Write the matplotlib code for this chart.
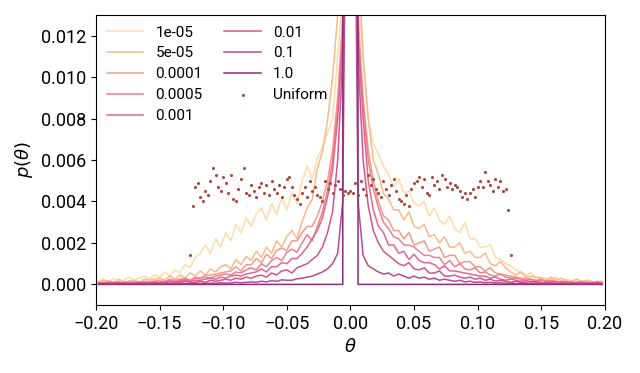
import numpy as np
import matplotlib
matplotlib.use("Agg")
import matplotlib.pyplot as plt
from matplotlib.ticker import FuncFormatter

plt.rcParams['font.family'] = ['Roboto', 'DejaVu Sans']
plt.rcParams['font.size'] = 13

# ---- data (p in units of 1e-3), bin centres -0.198 .. 0.198 step 0.004 ----
theta = np.linspace(-0.198, 0.198, 100)

labels = ['1e-05', '5e-05', '0.0001', '0.0005', '0.001', '0.01', '0.1', '1.0']
colors = ['#fcdcaa', '#f8b98f', '#f29c8c', '#ec8090', '#e5668d', '#d3558a', '#b94a8c', '#8c2c7d']

p_1e5 = [0.15, 0.25, 0.1, 0.3, 0.15, 0.2, 0.35, 0.2, 0.3, 0.4,
         0.25, 0.45, 0.35, 0.6, 0.4, 0.7, 0.55, 0.95, 0.8, 1.3,
         1.5, 1.9, 1.5, 2.2, 1.8, 2.5, 2.1, 2.9, 2.5, 3.2,
         2.8, 3.4, 3.7, 3.1, 3.9, 3.4, 4.2, 3.6, 4.4, 3.9,
         5.0, 5.7, 5.1, 6.1, 6.6, 7.3, 8.0, 11.0, 14.0, 18.0,
         18.0, 14.0, 11.0, 8.0, 6.8, 6.3, 5.7, 5.3, 4.7, 5.1,
         4.4, 4.5, 3.9, 3.8, 4.0, 3.3, 3.7, 3.1, 2.9, 3.3,
         2.7, 2.5, 3.0, 2.2, 2.2, 1.8, 1.8, 1.9, 1.3, 1.2,
         1.0, 0.9, 0.7, 0.6, 0.45, 0.55, 0.3, 0.35, 0.3, 0.25,
         0.35, 0.15, 0.25, 0.15, 0.25, 0.15, 0.2, 0.15, 0.1, 0.2]

p_5e5 = [0.1, 0.2, 0.15, 0.1, 0.25, 0.1, 0.15, 0.2, 0.1, 0.25,
         0.2, 0.25, 0.3, 0.2, 0.4, 0.25, 0.45, 0.3, 0.55, 0.4,
         0.65, 0.45, 0.75, 0.6, 0.85, 0.95, 0.75, 1.2, 0.95, 1.35,
         1.15, 1.6, 1.3, 1.8, 1.5, 2.1, 1.8, 2.3, 2.6, 2.2,
         3.0, 3.7, 4.1, 5.6, 6.4, 7.9, 10.0, 13.0, 17.0, 22.0,
         22.0, 16.0, 11.0, 8.0, 6.0, 5.3, 4.4, 4.1, 3.6, 3.6,
         3.1, 3.5, 2.8, 2.7, 2.9, 2.3, 2.4, 2.0, 2.3, 1.8,
         1.8, 2.0, 1.5, 1.6, 1.3, 1.3, 1.5, 1.0, 0.9, 1.1,
         0.8, 0.6, 0.45, 0.6, 0.35, 0.4, 0.35, 0.3, 0.2, 0.35,
         0.2, 0.3, 0.15, 0.15, 0.25, 0.1, 0.2, 0.1, 0.15, 0.1]

p_1e4 = [0.1, 0.05, 0.15, 0.1, 0.1, 0.05, 0.15, 0.1, 0.1, 0.15,
         0.1, 0.15, 0.2, 0.1, 0.25, 0.2, 0.25, 0.3, 0.2, 0.35,
         0.3, 0.45, 0.45, 0.5, 0.55, 0.6, 0.65, 0.85, 0.65, 0.95,
         0.95, 1.25, 1.05, 1.45, 1.25, 1.65, 1.75, 1.65, 2.1, 2.1,
         2.5, 2.8, 2.8, 3.3, 4.0, 5.0, 6.5, 9.0, 13.0, 20.0,
         20.0, 13.0, 9.0, 6.5, 5.0, 4.0, 3.3, 3.1, 2.6, 2.6,
         2.2, 2.5, 1.9, 2.0, 2.1, 1.6, 1.7, 1.8, 1.3, 1.4,
         1.4, 1.0, 1.1, 1.1, 0.85, 0.85, 0.65, 0.8, 0.55, 0.5,
         0.45, 0.4, 0.35, 0.3, 0.3, 0.25, 0.2, 0.25, 0.15, 0.2,
         0.15, 0.1, 0.15, 0.1, 0.1, 0.15, 0.1, 0.05, 0.1, 0.1]

p_5e4 = [0.05, 0.1, 0.05, 0.1, 0.05, 0.1, 0.05, 0.1, 0.1, 0.05,
         0.1, 0.15, 0.1, 0.15, 0.2, 0.15, 0.2, 0.25, 0.2, 0.3,
         0.3, 0.35, 0.3, 0.4, 0.45, 0.5, 0.45, 0.6, 0.55, 0.7,
         0.8, 0.7, 1.0, 0.85, 1.15, 1.3, 1.15, 1.55, 1.7, 1.55,
         2.0, 2.4, 2.1, 2.8, 3.5, 4.5, 6.0, 8.5, 12.0, 19.0,
         19.0, 12.0, 8.5, 6.0, 4.6, 3.7, 3.0, 2.7, 2.3, 2.2,
         1.9, 1.9, 1.8, 1.6, 1.4, 1.4, 1.3, 1.3, 0.95, 1.15,
         0.85, 1.0, 0.75, 0.7, 0.8, 0.55, 0.6, 0.45, 0.4, 0.5,
         0.35, 0.3, 0.3, 0.25, 0.2, 0.25, 0.15, 0.2, 0.15, 0.1,
         0.1, 0.15, 0.1, 0.1, 0.05, 0.1, 0.1, 0.05, 0.1, 0.05]

p_1e3 = [0.05, 0.05, 0.1, 0.05, 0.05, 0.1, 0.05, 0.05, 0.1, 0.05,
         0.1, 0.05, 0.1, 0.1, 0.15, 0.1, 0.15, 0.2, 0.15, 0.2,
         0.2, 0.25, 0.3, 0.25, 0.35, 0.3, 0.4, 0.45, 0.4, 0.5,
         0.55, 0.6, 0.75, 0.6, 0.85, 0.85, 1.05, 1.0, 1.25, 1.25,
         1.5, 1.8, 2.2, 2.6, 3.2, 4.2, 5.5, 8.0, 12.0, 19.0,
         19.0, 12.0, 8.0, 5.0, 3.6, 2.8, 2.5, 1.9, 1.9, 1.5,
         1.6, 1.2, 1.45, 1.15, 1.05, 1.05, 0.95, 0.75, 0.9, 0.65,
         0.65, 0.6, 0.55, 0.5, 0.45, 0.4, 0.4, 0.3, 0.35, 0.25,
         0.2, 0.25, 0.2, 0.15, 0.2, 0.1, 0.15, 0.1, 0.1, 0.15,
         0.1, 0.05, 0.1, 0.1, 0.05, 0.1, 0.05, 0.1, 0.05, 0.05]

p_1e2 = [0.05, 0.05, 0.05, 0.05, 0.1, 0.05, 0.05, 0.05, 0.05, 0.1,
         0.05, 0.1, 0.05, 0.1, 0.05, 0.1, 0.1, 0.15, 0.1, 0.1,
         0.15, 0.1, 0.2, 0.15, 0.2, 0.25, 0.2, 0.3, 0.25, 0.35,
         0.3, 0.4, 0.45, 0.35, 0.55, 0.45, 0.65, 0.7, 0.55, 0.8,
         0.9, 1.0, 1.2, 1.4, 1.8, 2.5, 3.5, 6.0, 11.0, 22.0,
         22.0, 11.0, 6.0, 3.8, 2.6, 2.0, 1.6, 1.4, 1.2, 1.0,
         0.9, 1.05, 0.75, 0.7, 0.8, 0.55, 0.55, 0.65, 0.4, 0.4,
         0.45, 0.35, 0.3, 0.35, 0.25, 0.3, 0.2, 0.25, 0.15, 0.2,
         0.15, 0.1, 0.15, 0.1, 0.1, 0.15, 0.1, 0.05, 0.1, 0.05,
         0.05, 0.1, 0.05, 0.05, 0.1, 0.05, 0.05, 0.05, 0.1, 0.05]

p_1e1 = [0.0, 0.02, 0.0, 0.02, 0.0, 0.03, 0.0, 0.02, 0.01, 0.0,
         0.02, 0.03, 0.01, 0.02, 0.04, 0.02, 0.03, 0.05, 0.03, 0.04,
         0.05, 0.04, 0.06, 0.05, 0.08, 0.06, 0.07, 0.1, 0.08, 0.1,
         0.12, 0.1, 0.15, 0.12, 0.18, 0.15, 0.22, 0.2, 0.2, 0.27,
         0.3, 0.35, 0.4, 0.5, 0.6, 0.75, 1.0, 1.5, 4.0, 30.0,
         30.0, 4.0, 1.4, 0.9, 0.75, 0.6, 0.5, 0.55, 0.4, 0.5,
         0.4, 0.3, 0.4, 0.3, 0.35, 0.25, 0.3, 0.2, 0.25, 0.2,
         0.15, 0.2, 0.12, 0.15, 0.1, 0.12, 0.08, 0.1, 0.06, 0.08,
         0.05, 0.06, 0.04, 0.05, 0.03, 0.04, 0.02, 0.03, 0.02, 0.02,
         0.01, 0.02, 0.01, 0.02, 0.0, 0.01, 0.02, 0.0, 0.01, 0.0]

p_1e0 = [0.0] * 49 + [1000.0, 1000.0] + [0.0] * 49

# uniform reference, bin centres -0.126 .. 0.126 step 0.002
uniform_theta = np.linspace(-0.126, 0.126, 127)
uniform_p = [1.4, 3.8,
             4.7, 4.9, 4.2, 4.0, 4.5, 4.3, 5.0, 5.6, 5.3, 4.7,
             4.5, 5.2, 4.9, 4.4, 5.3, 4.1, 4.0, 4.6, 5.1, 5.6,
             4.4, 4.3, 4.8, 4.5, 4.2, 4.7, 4.9, 4.4, 4.8, 4.3,
             5.0, 4.6, 4.4, 4.8, 4.2, 4.7, 5.1, 5.2, 4.7, 4.3,
             4.1, 3.9, 4.4, 4.7, 4.2, 5.0, 4.5, 4.7, 4.3, 4.2,
             4.0, 5.0, 4.6, 4.9, 4.4, 4.8, 5.0, 4.6, 4.3, 4.5,
             4.4, 4.5, 4.4, 4.9, 4.3, 5.0, 4.6, 4.3, 5.3, 4.8,
             5.1, 4.6, 4.4, 4.2, 5.0, 4.6, 4.3, 4.8, 5.1, 4.5,
             4.1, 4.0, 3.9, 4.3, 3.8, 4.6, 4.9, 5.0, 5.2, 4.7,
             5.1, 4.4, 4.3, 5.2, 4.8, 5.0, 4.6, 5.3, 5.1, 4.7,
             4.9, 4.6, 4.8, 4.7, 4.5, 4.2, 4.4, 4.1, 4.4, 4.6,
             4.2, 4.7, 5.0, 4.7, 5.4, 5.0, 4.8, 4.5, 5.1, 4.7,
             5.0, 4.5, 4.6, 3.6, 1.4]

series = [p_1e5, p_5e5, p_1e4, p_5e4, p_1e3, p_1e2, p_1e1, p_1e0]

# ---- figure ----
fig, ax = plt.subplots(figsize=(6.4, 3.73), dpi=100)
fig.subplots_adjust(left=0.15, right=0.945, top=0.96, bottom=0.182)

for lab, col, p in zip(labels, colors, series):
    ax.plot(theta, np.array(p) * 1e-3, color=col, lw=1.1, label=lab)

ax.scatter(uniform_theta, np.array(uniform_p) * 1e-3, s=5, color='#a84a3c',
           label='Uniform', zorder=5, linewidths=0)

ax.set_xlim(-0.2, 0.2)
ax.set_ylim(-0.001, 0.013)
ax.set_xticks(np.linspace(-0.2, 0.2, 9))
ax.set_yticks(np.linspace(0, 0.012, 7))
ax.xaxis.set_major_formatter(FuncFormatter(lambda v, pos: f'{v:.2f}'.replace('-', '\u2212')))
ax.yaxis.set_major_formatter(FuncFormatter(lambda v, pos: f'{v:.3f}'.replace('-', '\u2212')))
ax.set_xlabel(r'$\theta$')
ax.set_ylabel(r'$p(\theta)$')

ax.legend(ncol=2, frameon=False, loc='upper left', fontsize=11,
          handlelength=2.4, borderaxespad=0.3, labelspacing=0.45,
          columnspacing=1.4)

fig.savefig('out.png', dpi=100)
